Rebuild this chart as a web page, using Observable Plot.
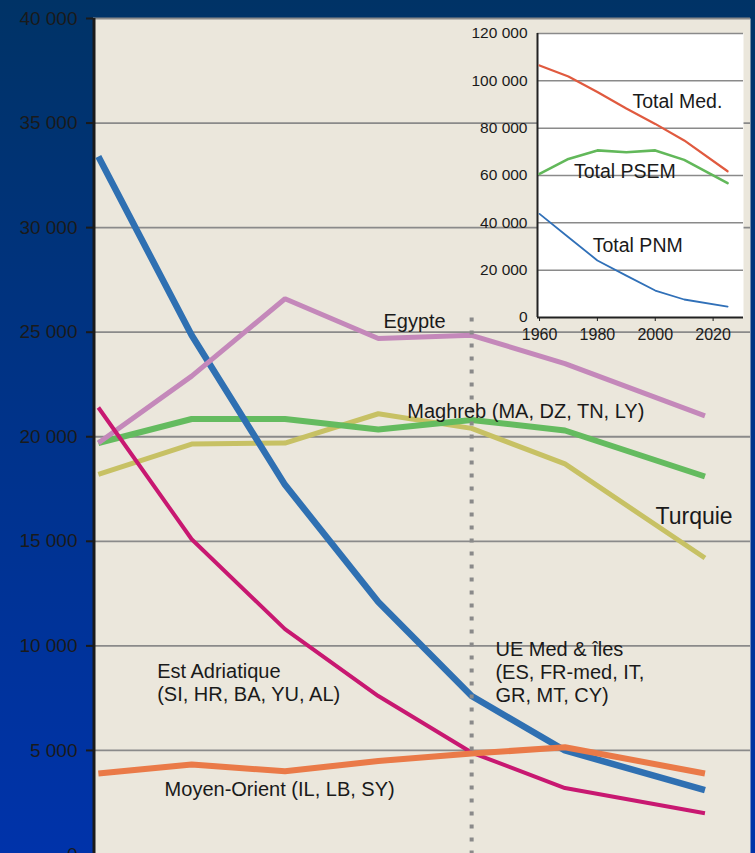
<!DOCTYPE html>
<html><head><meta charset="utf-8">
<script src="https://cdn.jsdelivr.net/npm/d3@7"></script>
<script src="https://cdn.jsdelivr.net/npm/@observablehq/plot@0.6"></script>
<style>
html,body{margin:0;padding:0;}
body{width:755px;height:853px;overflow:hidden;background:linear-gradient(to bottom,#003366 0%,#00338a 50%,#0033aa 100%);}
#wrap{position:relative;width:755px;height:853px;}
#wrap svg{position:absolute;left:0;top:0;}
</style></head><body><div id="wrap"></div>
<script>
// ---- data ----
const years = [1960, 1970, 1980, 1990, 2000, 2010, 2025];
const ueMed = [33400, 24850, 17700, 12100, 7600, 5000, 3100];
const estAdriatique = [21400, 15100, 10800, 7600, 4900, 3200, 2000];
const egypte = [19700, 22900, 26600, 24700, 24850, 23500, 21000];
const maghreb = [19700, 20850, 20850, 20350, 20800, 20300, 18100];
const turquie = [18200, 19650, 19700, 21100, 20400, 18700, 14200];
const moyenOrient = [3900, 4330, 4000, 4500, 4850, 5150, 3900];
const yTicks = [0, 5000, 10000, 15000, 20000, 25000, 30000, 35000, 40000];

const totalMed = [106500, 101800, 95300, 88300, 81800, 74800, 61800];
const totalPSEM = [60700, 67000, 70600, 69800, 70600, 66600, 56800];
const totalPNM = [43800, 33900, 24100, 17700, 11400, 7600, 4600];
const insetYTicks = [0, 20000, 40000, 60000, 80000, 100000, 120000];
const insetXTicks = [1960, 1980, 2000, 2020];

const mainLabels = [
  {text: "Egypte", year: 1990.55, value: 25530},
  {text: "Maghreb (MA, DZ, TN, LY)", year: 1993.1, value: 21270},
  {text: "Est Adriatique\n(SI, HR, BA, YU, AL)", year: 1966.3, value: 8280},
  {text: "UE Med & îles\n(ES, FR-med, IT,\nGR, MT, CY)", year: 2002.55, value: 8780},
  {text: "Moyen-Orient (IL, LB, SY)", year: 1967.1, value: 3180}
];
const turquieLabel = [{text: "Turquie", year: 2019.7, value: 16200}];
const insetLabels = [
  {text: "Total Med.", year: 1992.1, value: 91300},
  {text: "Total PSEM", year: 1971.9, value: 61700},
  {text: "Total PNM", year: 1978.4, value: 30400}
];

// ---- build tables ----
const rows = vals => years.map((y, i) => ({year: y, value: vals[i]}));
const mainSeries = [
  {vals: turquie, stroke: "#c7c164", w: 5},
  {vals: maghreb, stroke: "#64bb5f", w: 6},
  {vals: ueMed, stroke: "#2f70b2", w: 6.5},
  {vals: egypte, stroke: "#c488ba", w: 5},
  {vals: estAdriatique, stroke: "#c81871", w: 4},
  {vals: moyenOrient, stroke: "#ea7a48", w: 6}
];
const insetSeries = [
  {vals: totalMed, stroke: "#e05a3f", w: 2.2},
  {vals: totalPSEM, stroke: "#62b85a", w: 2.6},
  {vals: totalPNM, stroke: "#3070b8", w: 1.8}
];

const fmt = d => d3.format(",")(d).replace(/,/g, " ");
const font = "'Liberation Sans', Arial, sans-serif";
const ink = "#1a1a1a";
const xDom = [1959.48, 2029.88];

const main = Plot.plot({
  width: 755, height: 853,
  marginLeft: 93, marginRight: 5, marginTop: 18, marginBottom: 0,
  style: {background: "transparent", fontFamily: font, overflow: "visible"},
  x: {domain: xDom, axis: null},
  y: {domain: [0, 40000], range: [854.5, 18], axis: null},
  marks: [
    Plot.frame({fill: "#ebe7dc", stroke: null}),
    Plot.gridY(yTicks.filter(d => d > 0), {stroke: "#8a8a8a", strokeOpacity: 1, strokeWidth: 1.8}),
    Plot.axisY(yTicks, {label: null, tickSize: 7, tickPadding: 9, tickFormat: fmt, fontSize: 19, color: ink, strokeWidth: 2}),
    Plot.ruleX([xDom[0]], {stroke: "#1a1a1a", strokeWidth: 3, dx: 0.5}),
    ...mainSeries.map(s => Plot.line(rows(s.vals), {x: "year", y: "value", stroke: s.stroke, strokeWidth: s.w, strokeLinecap: "butt", strokeLinejoin: "miter"})),
    Plot.ruleX([2000], {y1: 0, y2: 26000, stroke: "#8a8a8a", strokeWidth: 4, strokeDasharray: "4,9"}),
    Plot.text(mainLabels, {x: "year", y: "value", text: "text", textAnchor: "start", lineAnchor: "middle", lineHeight: 1.15, fontSize: 20, fill: ink}),
    Plot.text(turquieLabel, {x: "year", y: "value", text: "text", textAnchor: "start", lineAnchor: "middle", fontSize: 23, fill: ink})
  ]
});

const inset = Plot.plot({
  width: 755, height: 853,
  marginLeft: 537, marginRight: 12, marginTop: 33, marginBottom: 536,
  style: {background: "transparent", fontFamily: font, overflow: "visible"},
  x: {domain: [1959.3, 2030.5], axis: null},
  y: {domain: [0, 120000], axis: null},
  marks: [
    Plot.frame({fill: "white", stroke: null}),
    Plot.gridY(insetYTicks.filter(d => d > 0), {stroke: "#8a8a8a", strokeOpacity: 1, strokeWidth: 1.5}),
    Plot.axisY(insetYTicks, {label: null, tickSize: 0, tickPadding: 10, tickFormat: fmt, fontSize: 15.5, color: ink}),
    Plot.axisX(insetXTicks, {label: null, tickSize: 4, tickPadding: 7, tickFormat: d => String(d), fontSize: 16, color: ink}),
    Plot.ruleX([1959.3], {stroke: "#222", strokeWidth: 2}),
    Plot.ruleY([0], {stroke: "#222", strokeWidth: 2}),
    ...insetSeries.map(s => Plot.line(rows(s.vals), {x: "year", y: "value", stroke: s.stroke, strokeWidth: s.w})),
    Plot.text(insetLabels, {x: "year", y: "value", text: "text", textAnchor: "start", lineAnchor: "middle", fontSize: 19.5, fill: ink})
  ]
});

const wrap = document.getElementById("wrap");
wrap.appendChild(main);
wrap.appendChild(inset);
</script>
</body></html>
